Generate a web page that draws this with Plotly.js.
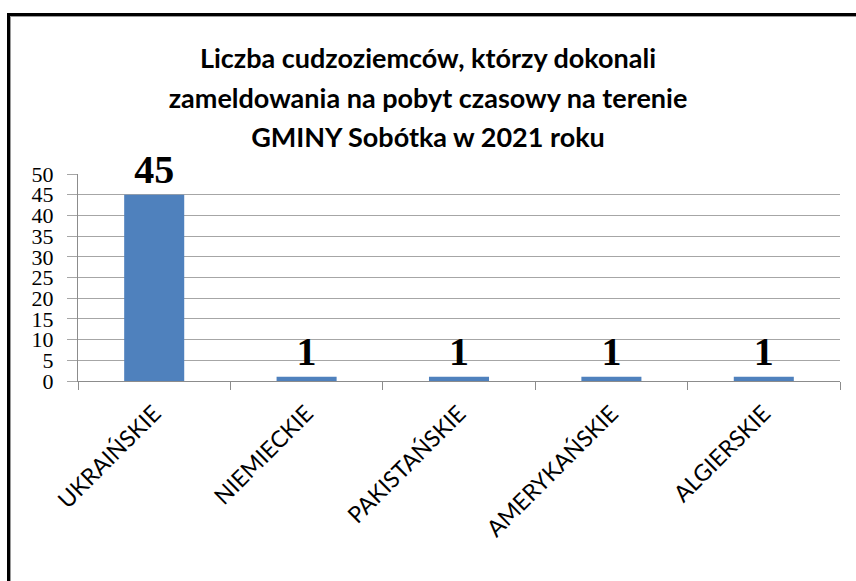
<!DOCTYPE html>
<html>
<head>
<meta charset="utf-8">
<script src="https://cdn.plot.ly/plotly-3.0.1.min.js"></script>
<style>
  html, body { margin: 0; padding: 0; background: #ffffff; }
  #wrap { position: relative; width: 856px; height: 581px; overflow: hidden; }
  #chart { position: absolute; left: 0; top: 0; width: 856px; height: 581px; }
  #frame { position: absolute; left: 7px; top: 13px; width: 900px; height: 700px;
           border-left: 3px solid #000; border-top: 3px solid #000; pointer-events: none; }
  #frame:after { content: ""; position: absolute; left: 0; top: 0; width: 900px; height: 700px;
           border-left: 1px solid #9a9a9a; border-top: 1px solid #9a9a9a; }
</style>
</head>
<body>
<div id="wrap">
  <div id="chart"></div>
  <div id="frame"></div>
</div>
<script>
const categories = ["UKRAIŃSKIE", "NIEMIECKIE", "PAKISTAŃSKIE", "AMERYKAŃSKIE", "ALGIERSKIE"];
const values = [45, 1, 1, 1, 1];
const valueLabels = ["45", "1", "1", "1", "1"];
const yTicks = [0, 5, 10, 15, 20, 25, 30, 35, 40, 45, 50];
const titleLines = [
  "Liczba cudzoziemców, którzy dokonali",
  "zameldowania na pobyt czasowy na terenie",
  "GMINY Sobótka w 2021 roku"
];

const trace = {
  type: "bar",
  x: categories,
  y: values,
  text: valueLabels,
  textposition: "outside",
  cliponaxis: false,
  constraintext: "none",
  textfont: { family: "Liberation Serif, Times New Roman, serif", size: 40, color: "#000", weight: "bold" },
  marker: { color: "#4F81BD", line: { width: 0 } },
  hoverinfo: "x+y"
};

const layout = {
  width: 856,
  height: 581,
  paper_bgcolor: "rgba(0,0,0,0)",
  plot_bgcolor: "#ffffff",
  margin: { l: 78, r: 16, t: 174, b: 200 },
  showlegend: false,
  bargap: 0.606,
  title: {
    text: titleLines.map(l => '<span style="font-size:27px">' + l + '</span>').join("<br>"),
    font: { family: "Lato, Carlito, Calibri, sans-serif", size: 30.5, color: "#000", weight: "bold" },
    x: 0.5, xref: "container", xanchor: "center",
    y: 0.883, yref: "container", yanchor: "top"
  },
  xaxis: {
    type: "category",
    tickson: "boundaries",
    ticks: "outside",
    ticklen: 8,
    tickcolor: "#8c8c8c",
    tickangle: -45,
    showline: true,
    linecolor: "#8c8c8c",
    linewidth: 1,
    showgrid: false,
    tickfont: { family: "Lato, Carlito, Calibri, sans-serif", size: 23, color: "#000" },
    ticklabelstandoff: 9
  },
  yaxis: {
    range: [0, 50],
    tickvals: yTicks,
    ticktext: yTicks.map(String),
    ticks: "outside",
    ticklen: 10,
    tickcolor: "#a6a6a6",
    showline: true,
    linecolor: "#8c8c8c",
    linewidth: 1,
    showgrid: true,
    gridcolor: "#a6a6a6",
    gridwidth: 1,
    zeroline: false,
    tickfont: { family: "Liberation Serif, Times New Roman, serif", size: 22, color: "#000" },
    ticklabelstandoff: 9
  }
};

Plotly.newPlot("chart", [trace], layout, { displayModeBar: false, staticPlot: true });
</script>
</body>
</html>
